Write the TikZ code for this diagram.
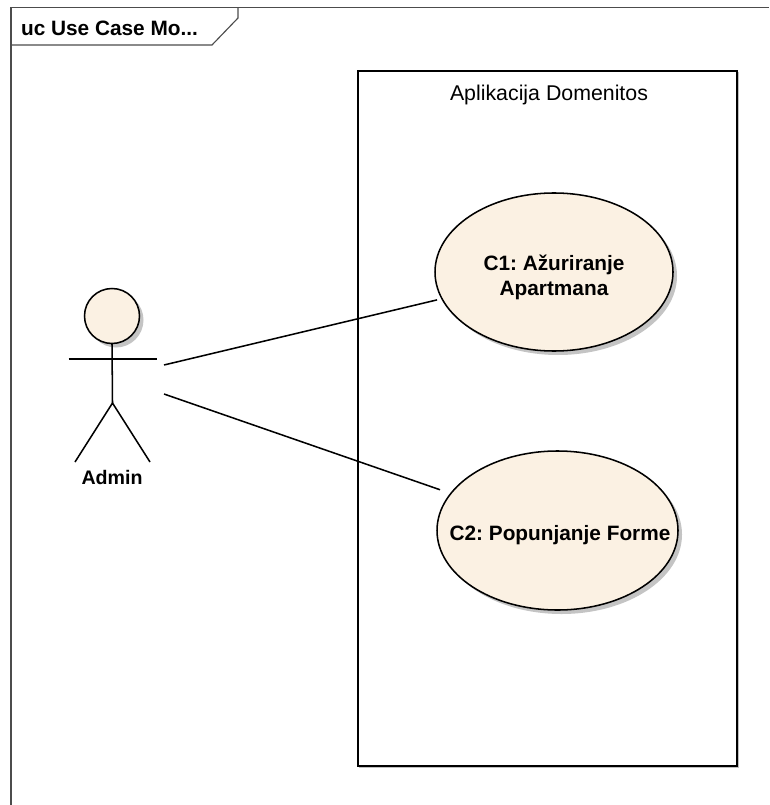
\documentclass[tikz,border=0pt]{standalone}
\usepackage{fontspec}
\setmainfont{Liberation Sans}
\usetikzlibrary{shapes.geometric}
\definecolor{ucfill}{HTML}{FBF1E3}
\definecolor{ucshadow}{HTML}{C4C4C4}
\tikzset{
  x=0.75pt,y=-0.75pt,
  ln/.style={draw=black,line width=1.15pt},
  framepath/.style={draw=black!70,line width=0.85pt},
  usecase/.style={shape=ellipse,draw=black,line width=1.15pt,fill=ucfill,inner sep=0pt,outer sep=0pt},
  uctext/.style={inner sep=0pt,outer sep=0pt,align=center,font=\fontsize{15.6}{19}\selectfont\bfseries},
  shade ell/.style={shape=ellipse,fill=ucshadow,draw=none,inner sep=0pt,outer sep=0pt},
  lbl/.style={inner sep=0pt,outer sep=0pt,anchor=center},
}
\frenchspacing
\begin{document}
\begin{tikzpicture}
\useasboundingbox (0,0) rectangle (769,805);
\fill[white] (0,0) rectangle (769,805);
% frame
\draw[framepath] (11,805) -- (11,7.5) -- (769,7.5);
\draw[framepath] (11,45) -- (212,45) -- (238,18) -- (238,7.5);
\node[lbl,font=\fontsize{15.6}{18}\selectfont\bfseries\frenchspacing] (title) at (109.5,28) {uc Use Case Mo...};
% boundary
\draw[draw=black!25,line width=0.75pt] (359,767.5) -- (738,767.5) -- (738,72);
\node[draw=black,line width=1.15pt,minimum width=284.25pt,minimum height=521.25pt,inner sep=0pt,outer sep=0pt] (sys) at (547.5,418.5) {};
\node[lbl,font=\fontsize{16}{20}\selectfont] (systitle) at (549,94.5) {Aplikacija Domenitos};
% shadows
\node[shade ell,minimum width=178.5pt,minimum height=118.5pt] at (558,276) {};
\node[shade ell,minimum width=180.75pt,minimum height=119.25pt] at (561.5,534.5) {};
\node[shade ell,minimum width=41.25pt,minimum height=41.25pt] at (116,320) {};
% use cases
\node[usecase,minimum width=178.5pt,minimum height=118.5pt] (c1) at (554,272) {};
\node[uctext] (c1t) at (554,277.5) {C1: Ažuriranje\\Apartmana};
\node[usecase,minimum width=180.75pt,minimum height=119.25pt] (c2) at (557.5,530.5) {};
\node[uctext] (c2t) at (560,535) {C2: Popunjanje Forme};
% actor
\node[shape=circle,draw=black,line width=1.15pt,fill=ucfill,minimum size=41.25pt,inner sep=0pt,outer sep=0pt] (head) at (112,316) {};
\coordinate (hip) at (112.5,403);
\coordinate (armL) at (68.5,359);
\coordinate (armR) at (156.5,359);
\coordinate (footL) at (75,462);
\coordinate (footR) at (150,462);
\draw[ln] (head.south) -- (hip);
\draw[ln] (armL) -- (armR);
\draw[ln] (footL) -- (hip) -- (footR);
\node[lbl,font=\fontsize{14.7}{18}\selectfont\bfseries] (admin) at (112,477) {Admin};
% connectors
\coordinate (a1) at (164,365);
\coordinate (a2) at (164,394);
\draw[ln,shorten >=3.8pt] (a1) -- (c1);
\draw[ln,shorten >=8.6pt] (a2) -- (c2);
\end{tikzpicture}
\end{document}
